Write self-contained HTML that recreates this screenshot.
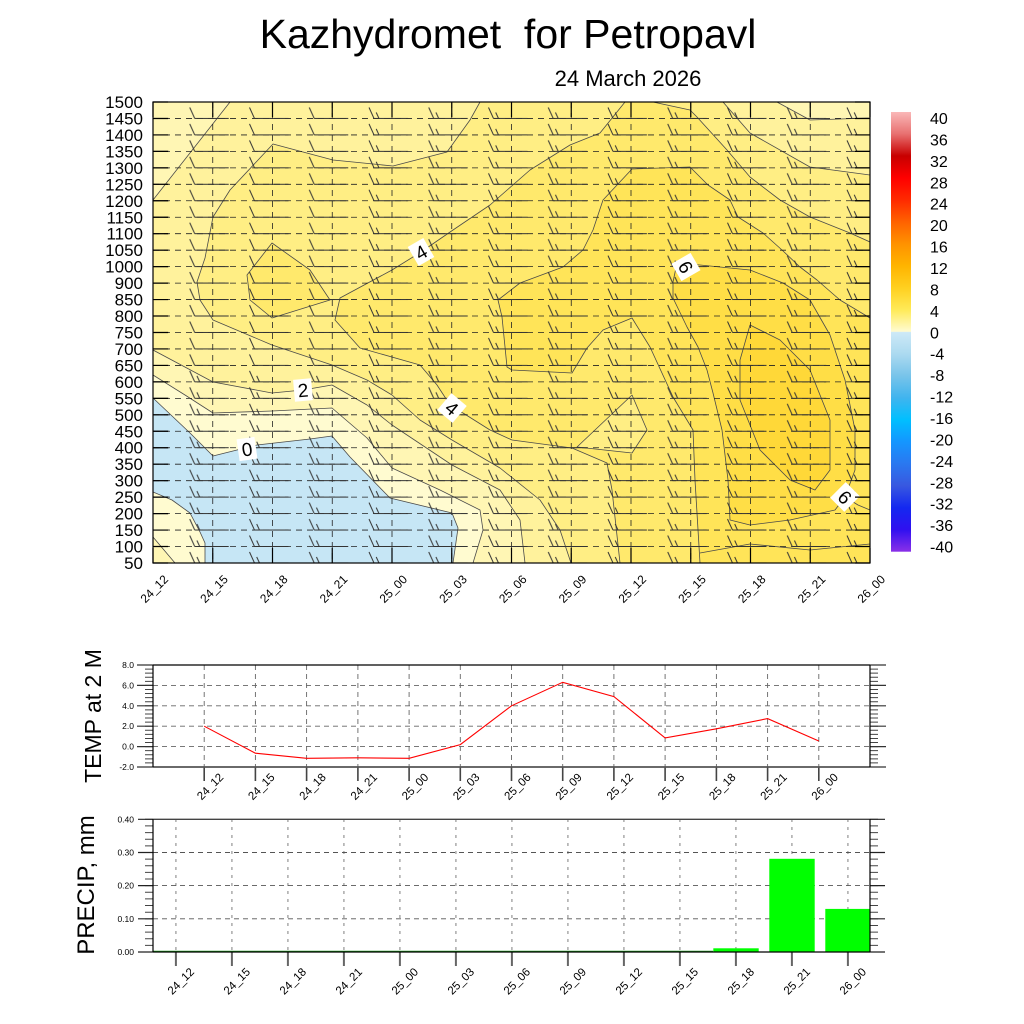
<!DOCTYPE html>
<html>
<head>
<meta charset="utf-8">
<style>
  html, body { margin:0; padding:0; background:#fff; }
  svg { display:block; }
  text { font-family: "Liberation Sans", Arial, sans-serif; fill:#000; }
</style>
</head>
<body>
<svg width="1024" height="1024" viewBox="0 0 1024 1024" xmlns="http://www.w3.org/2000/svg">
  <defs>
    <clipPath id="cp"><rect x="153" y="102" width="717" height="461"/></clipPath>
    <pattern id="pb1" x="123" y="88" width="59.75" height="16.464" patternUnits="userSpaceOnUse">
      <path d="M12 14H46M12 14L7 3" stroke="#333" stroke-width="1" fill="none"/>
    </pattern>
    <pattern id="pb2" x="123" y="88" width="59.75" height="16.464" patternUnits="userSpaceOnUse">
      <path d="M12 14H46M12 14L7 3M17 14L14.2 8" stroke="#333" stroke-width="1" fill="none"/>
    </pattern>
    <linearGradient id="cb" x1="0" y1="0" x2="0" y2="1">
      <stop offset="0" stop-color="#fab8b8"/>
      <stop offset="0.05" stop-color="#e87070"/>
      <stop offset="0.10" stop-color="#c80000"/>
      <stop offset="0.15" stop-color="#ff0000"/>
      <stop offset="0.20" stop-color="#ff2a00"/>
      <stop offset="0.25" stop-color="#ff6200"/>
      <stop offset="0.30" stop-color="#ff9200"/>
      <stop offset="0.35" stop-color="#ffb400"/>
      <stop offset="0.40" stop-color="#ffd020"/>
      <stop offset="0.45" stop-color="#ffea58"/>
      <stop offset="0.499" stop-color="#fffbd0"/>
      <stop offset="0.501" stop-color="#cde9f7"/>
      <stop offset="0.55" stop-color="#acdaf0"/>
      <stop offset="0.60" stop-color="#78c4ea"/>
      <stop offset="0.65" stop-color="#40b4ee"/>
      <stop offset="0.70" stop-color="#00bfff"/>
      <stop offset="0.75" stop-color="#1496ff"/>
      <stop offset="0.80" stop-color="#2a78f0"/>
      <stop offset="0.85" stop-color="#3858e0"/>
      <stop offset="0.90" stop-color="#1428f0"/>
      <stop offset="0.95" stop-color="#3010f0"/>
      <stop offset="1" stop-color="#8a30e8"/>
    </linearGradient>
  </defs>

  <rect width="1024" height="1024" fill="#fff"/>

  <!-- Titles -->
  <text x="508" y="48" font-size="41" text-anchor="middle" xml:space="preserve" style="white-space:pre">Kazhydromet  for Petropavl</text>
  <text x="628" y="86" font-size="22" text-anchor="middle">24 March 2026</text>

  <!-- ===== Main contour plot ===== -->
  <g clip-path="url(#cp)" stroke="#4a4a4a" stroke-width="0.8" stroke-linejoin="round">
    <rect x="153" y="102" width="717" height="461" fill="#ffe96c" stroke="none"/>
    <path fill="#ffee84" d="M153 102 L625 102 L600 133 L570 145 L530 170 L490 205 L453 230 L421 252 L392 270 L340 298 L335 320 L360 348 L420 365 L437 385 L452 408 L463 413 L490 430 L512 440 L572 448 L607 463 L612 490 L620 563 L153 563 Z"/>
    <path fill="#ffe96c" d="M272 243 L310 270 L330 300 L272 318 L250 300 L247 275 Z"/>
    <path fill="#ffee84" d="M653 102 L690 110 L697 117 L727 150 L750 177 L780 200 L810 217 L850 233 L870 242 L870 102 Z"/>
    <path fill="#fff29c" d="M723 102 L750 133 L810 167 L870 175 L870 102 Z"/>
    <path fill="#fff6b4" d="M777 102 L810 120 L870 118 L870 102 Z"/>
    <path fill="#fff29c" d="M153 102 L480 102 L470 120 L447 152 L393 166 L333 160 L273 144 L230 190 L213 217 L205 258 L197 282 L200 300 L213 320 L272 345 L332 365 L367 380 L392 395 L420 420 L452 440 L500 468 L540 500 L560 530 L571 563 L153 563 Z"/>
    <path fill="#fff6b4" d="M153 102 L230 102 L153 200 Z"/>
    <path fill="#fff6b4" d="M153 350 L213 382 L272 393 L303 390 L332 385 L367 405 L392 425 L452 465 L500 490 L520 520 L525 563 L153 563 Z"/>
    <path fill="#fffbd0" d="M153 375 L185 395 L213 413 L272 411 L332 408 L367 438 L392 468 L440 490 L480 510 L483 530 L473 563 L153 563 Z"/>
    <path fill="#fff6b4" d="M153 537 L175 563 L153 563 Z"/>
    <path fill="#c6e6f5" d="M153 398 L190 433 L213 456 L257 445 L310 439 L332 436 L350 457 L390 498 L452 513 L458 528 L453 563 L205 563 L205 543 L200 532 L190 513 L172 500 L153 492 Z"/>
    <path fill="#ffee84" d="M577 447 L632 395 L647 430 L632 453 Z"/>
    <path fill="#ffe458" d="M603 200 L632 169 L690 167 L708 185 L730 200 L738 217 L763 233 L782 250 L800 267 L817 280 L840 300 L870 318 L870 563 L700 563 L695 480 L693 430 L673 397 L650 347 L632 318 L603 330 L587 348 L572 373 L512 370 L507 367 L502 317 L498 300 L520 283 L563 267 L583 250 L593 230 Z"/>
    <path fill="#ffde46" d="M673 282 L677 263 L700 265 L750 270 L783 283 L810 300 L830 335 L845 380 L855 430 L855 470 L845 497 L835 510 L790 520 L750 525 L730 520 L728 480 L722 430 L713 393 L707 370 L698 347 L687 327 L673 298 Z"/>
    <path fill="#ffd838" d="M750 325 L740 360 L740 400 L760 450 L790 480 L815 490 L830 470 L830 420 L810 370 L780 340 Z"/>
    <polyline fill="none" points="700,553 750,544 810,550 870,544"/>
    <polyline fill="none" points="845,497 858,505 870,510"/>

    <path fill="none" stroke="#222" stroke-width="0.8" stroke-dasharray="6 5" d="M153 118.46H870M153 134.93H870M153 151.39H870M153 167.86H870M153 184.32H870M153 200.78H870M153 217.25H870M153 233.71H870M153 250.18H870M153 266.64H870M153 283.1H870M153 299.57H870M153 316.03H870M153 332.5H870M153 348.96H870M153 365.42H870M153 381.89H870M153 398.35H870M153 414.82H870M153 431.28H870M153 447.74H870M153 464.21H870M153 480.67H870M153 497.14H870M153 513.6H870M153 530.06H870M153 546.53H870"/>
    <path fill="none" stroke="#222" stroke-width="0.8" stroke-dasharray="6 5" d="M212.75 102V563M272.5 102V563M332.25 102V563M392 102V563M451.75 102V563M511.5 102V563M571.25 102V563M631 102V563M690.75 102V563M750.5 102V563M810.25 102V563"/>

    <rect x="153" y="102" width="209.75" height="265.9" fill="url(#pb1)" stroke="none"/>
    <rect x="362.75" y="102" width="507.25" height="461" fill="url(#pb2)" stroke="none"/>
    <rect x="153" y="367.9" width="209.75" height="195.1" fill="url(#pb2)" stroke="none"/>
  </g>

  <g font-size="19" text-anchor="middle">
    <g transform="translate(247 449) rotate(-8)"><rect x="-9" y="-11" width="18" height="22" fill="#fff"/><text y="7">0</text></g>
    <g transform="translate(303 390) rotate(-5)"><rect x="-9" y="-11" width="18" height="22" fill="#fff"/><text y="7">2</text></g>
    <g transform="translate(421 252) rotate(-30)"><rect x="-9" y="-11" width="18" height="22" fill="#fff"/><text y="7">4</text></g>
    <g transform="translate(452 408) rotate(40)"><rect x="-10" y="-11" width="20" height="22" fill="#fff"/><text y="7">4</text></g>
    <g transform="translate(686 267) rotate(60)"><rect x="-10" y="-11" width="20" height="22" fill="#fff"/><text y="7">6</text></g>
    <g transform="translate(845 497) rotate(45)"><rect x="-10" y="-11" width="20" height="22" fill="#fff"/><text y="7">6</text></g>
  </g>

  <g stroke="#000" fill="none">
    <line x1="160.5" y1="101.4" x2="160.5" y2="563.6" stroke-width="15" stroke-dasharray="1.2 15.264"/>
    <line x1="862.5" y1="101.4" x2="862.5" y2="563.6" stroke-width="15" stroke-dasharray="1.2 15.264"/>
    <line x1="152.4" y1="109.5" x2="870.6" y2="109.5" stroke-width="15" stroke-dasharray="1.2 58.55"/>
    <line x1="152.4" y1="555.5" x2="870.6" y2="555.5" stroke-width="15" stroke-dasharray="1.2 58.55"/>
    <rect x="153" y="102" width="717" height="461" stroke-width="1.2"/>
  </g>

  <g font-size="17" text-anchor="end">
    <text x="143" y="108">1500</text><text x="143" y="124.46">1450</text><text x="143" y="140.93">1400</text>
    <text x="143" y="157.39">1350</text><text x="143" y="173.86">1300</text><text x="143" y="190.32">1250</text>
    <text x="143" y="206.78">1200</text><text x="143" y="223.25">1150</text><text x="143" y="239.71">1100</text>
    <text x="143" y="256.18">1050</text><text x="143" y="272.64">1000</text><text x="143" y="289.1">900</text>
    <text x="143" y="305.57">850</text><text x="143" y="322.03">800</text><text x="143" y="338.5">750</text>
    <text x="143" y="354.96">700</text><text x="143" y="371.42">650</text><text x="143" y="387.89">600</text>
    <text x="143" y="404.35">550</text><text x="143" y="420.82">500</text><text x="143" y="437.28">450</text>
    <text x="143" y="453.74">400</text><text x="143" y="470.21">350</text><text x="143" y="486.67">300</text>
    <text x="143" y="503.14">250</text><text x="143" y="519.6">200</text><text x="143" y="536.06">150</text>
    <text x="143" y="552.53">100</text><text x="143" y="569">50</text>
  </g>

  <g font-size="12" text-anchor="end">
    <text transform="translate(169 580) rotate(-45)">24_12</text>
    <text transform="translate(228.75 580) rotate(-45)">24_15</text>
    <text transform="translate(288.5 580) rotate(-45)">24_18</text>
    <text transform="translate(348.25 580) rotate(-45)">24_21</text>
    <text transform="translate(408 580) rotate(-45)">25_00</text>
    <text transform="translate(467.75 580) rotate(-45)">25_03</text>
    <text transform="translate(527.5 580) rotate(-45)">25_06</text>
    <text transform="translate(587.25 580) rotate(-45)">25_09</text>
    <text transform="translate(647 580) rotate(-45)">25_12</text>
    <text transform="translate(706.75 580) rotate(-45)">25_15</text>
    <text transform="translate(766.5 580) rotate(-45)">25_18</text>
    <text transform="translate(826.25 580) rotate(-45)">25_21</text>
    <text transform="translate(886 580) rotate(-45)">26_00</text>
  </g>

  <rect x="891" y="112" width="20" height="439.7" fill="url(#cb)"/>
  <g font-size="16">
    <text x="930" y="124">40</text><text x="930" y="145.4">36</text><text x="930" y="166.9">32</text>
    <text x="930" y="188.3">28</text><text x="930" y="209.7">24</text><text x="930" y="231.2">20</text>
    <text x="930" y="252.6">16</text><text x="930" y="274">12</text><text x="930" y="295.4">8</text>
    <text x="930" y="316.9">4</text><text x="930" y="338.3">0</text><text x="930" y="359.7">-4</text>
    <text x="930" y="381.2">-8</text><text x="930" y="402.6">-12</text><text x="930" y="424">-16</text>
    <text x="930" y="445.5">-20</text><text x="930" y="466.9">-24</text><text x="930" y="488.3">-28</text>
    <text x="930" y="509.7">-32</text><text x="930" y="531.2">-36</text><text x="930" y="552.6">-40</text>
  </g>

  <!-- ===== Temperature panel ===== -->
  <text transform="translate(101 716) rotate(-90)" font-size="23" text-anchor="middle">TEMP at 2 M</text>
  <g fill="none">
    <path stroke="#666" stroke-width="0.9" stroke-dasharray="5 4" d="M153 685.4H870M153 705.8H870M153 726.2H870M153 746.6H870"/>
    <path stroke="#666" stroke-width="0.9" stroke-dasharray="5 4" d="M204.2 665V767M255.4 665V767M306.6 665V767M357.9 665V767M409.1 665V767M460.3 665V767M511.5 665V767M562.7 665V767M613.9 665V767M665.1 665V767M716.4 665V767M767.6 665V767M818.8 665V767"/>
    <polyline stroke="#ff0000" stroke-width="1.1" points="204.2,726.2 255.4,753.2 306.6,758.3 357.9,757.8 409.1,758.3 460.3,744.6 511.5,705.8 562.7,682.3 613.9,696.6 665.1,737.9 716.4,728.8 767.6,718.6 818.8,741"/>
    <line x1="149" y1="664.5" x2="149" y2="767.5" stroke="#444" stroke-width="8" stroke-dasharray="1 3.08"/>
    <line x1="874" y1="664.5" x2="874" y2="767.5" stroke="#444" stroke-width="8" stroke-dasharray="1 3.08"/>
    <path stroke="#333" stroke-width="1.2" d="M137 665H153M137 685.4H153M137 705.8H153M137 726.2H153M137 746.6H153M137 767H153M870 665H886M870 685.4H886M870 705.8H886M870 726.2H886M870 746.6H886M870 767H886"/>
    <path stroke="#444" stroke-width="1.6" d="M204.2 767V781M255.4 767V781M306.6 767V781M357.9 767V781M409.1 767V781M460.3 767V781M511.5 767V781M562.7 767V781M613.9 767V781M665.1 767V781M716.4 767V781M767.6 767V781M818.8 767V781"/>
    <line x1="153" y1="665" x2="870" y2="665" stroke="#000" stroke-width="1.2"/>
    <line x1="153" y1="767" x2="870" y2="767" stroke="#555" stroke-width="1.8"/>
    <line x1="153" y1="665" x2="153" y2="767" stroke="#000" stroke-width="1.2"/>
    <line x1="870" y1="665" x2="870" y2="767" stroke="#000" stroke-width="1.2"/>
  </g>
  <g font-size="8.5" text-anchor="end" fill="#222">
    <text x="134" y="668">8.0</text><text x="134" y="688.4">6.0</text><text x="134" y="708.8">4.0</text>
    <text x="134" y="729.2">2.0</text><text x="134" y="749.6">0.0</text><text x="134" y="770">-2.0</text>
  </g>
  <g font-size="11.5" text-anchor="end">
    <text transform="translate(224.2 778) rotate(-45)">24_12</text>
    <text transform="translate(275.4 778) rotate(-45)">24_15</text>
    <text transform="translate(326.6 778) rotate(-45)">24_18</text>
    <text transform="translate(377.9 778) rotate(-45)">24_21</text>
    <text transform="translate(429.1 778) rotate(-45)">25_00</text>
    <text transform="translate(480.3 778) rotate(-45)">25_03</text>
    <text transform="translate(531.5 778) rotate(-45)">25_06</text>
    <text transform="translate(582.7 778) rotate(-45)">25_09</text>
    <text transform="translate(633.9 778) rotate(-45)">25_12</text>
    <text transform="translate(685.1 778) rotate(-45)">25_15</text>
    <text transform="translate(736.4 778) rotate(-45)">25_18</text>
    <text transform="translate(787.6 778) rotate(-45)">25_21</text>
    <text transform="translate(838.8 778) rotate(-45)">26_00</text>
  </g>

  <!-- ===== Precip panel ===== -->
  <text transform="translate(94 885) rotate(-90)" font-size="24" text-anchor="middle">PRECIP, mm</text>
  <g fill="none">
    <path stroke="#aaa" stroke-width="1.5" stroke-dasharray="3 5" d="M175.9 819V952M231.9 819V952M287.9 819V952M343.9 819V952M399.9 819V952M455.9 819V952M511.9 819V952M567.9 819V952M623.9 819V952M679.9 819V952M735.9 819V952M791.9 819V952M847.9 819V952"/>
    <path stroke="#555" stroke-width="0.9" stroke-dasharray="5 4" d="M153 852.5H870M153 885.6H870M153 918.8H870"/>
  </g>
  <g fill="#00ff00">
    <rect x="713.3" y="948.3" width="45.4" height="3.7"/>
    <rect x="769.3" y="858.8" width="45.4" height="93.2"/>
    <rect x="825.3" y="908.9" width="44.7" height="43.1"/>
  </g>
  <g fill="none">
    <line x1="153" y1="951.2" x2="713" y2="951.2" stroke="#1a9a1a" stroke-width="1"/>
    <line x1="149" y1="818.8" x2="149" y2="952.5" stroke="#444" stroke-width="8" stroke-dasharray="1 5.635"/>
    <line x1="874" y1="818.8" x2="874" y2="952.5" stroke="#444" stroke-width="8" stroke-dasharray="1 5.635"/>
    <path stroke="#222" stroke-width="1.2" d="M138 819.3H153M138 852.5H153M138 885.6H153M138 918.8H153M138 952H153M870 819.3H885M870 852.5H885M870 885.6H885M870 918.8H885M870 952H885"/>
    <path stroke="#666" stroke-width="2" d="M175.9 952V966M231.9 952V966M287.9 952V966M343.9 952V966M399.9 952V966M455.9 952V966M511.9 952V966M567.9 952V966M623.9 952V966M679.9 952V966M735.9 952V966M791.9 952V966M847.9 952V966"/>
    <line x1="153" y1="819.3" x2="870" y2="819.3" stroke="#444" stroke-width="1.3"/>
    <line x1="153" y1="952" x2="870" y2="952" stroke="#000" stroke-width="1.2"/>
    <line x1="153" y1="819.3" x2="153" y2="952" stroke="#000" stroke-width="1.2"/>
    <line x1="870" y1="819.3" x2="870" y2="952" stroke="#000" stroke-width="1.2"/>
  </g>
  <g font-size="8.5" text-anchor="end" fill="#222">
    <text x="134" y="822.3">0.40</text><text x="134" y="855.5">0.30</text><text x="134" y="888.6">0.20</text>
    <text x="134" y="921.8">0.10</text><text x="134" y="955">0.00</text>
  </g>
  <g font-size="11.5" text-anchor="end">
    <text transform="translate(194.9 972.6) rotate(-45)">24_12</text>
    <text transform="translate(250.9 972.6) rotate(-45)">24_15</text>
    <text transform="translate(306.9 972.6) rotate(-45)">24_18</text>
    <text transform="translate(362.9 972.6) rotate(-45)">24_21</text>
    <text transform="translate(418.9 972.6) rotate(-45)">25_00</text>
    <text transform="translate(474.9 972.6) rotate(-45)">25_03</text>
    <text transform="translate(530.9 972.6) rotate(-45)">25_06</text>
    <text transform="translate(586.9 972.6) rotate(-45)">25_09</text>
    <text transform="translate(642.9 972.6) rotate(-45)">25_12</text>
    <text transform="translate(698.9 972.6) rotate(-45)">25_15</text>
    <text transform="translate(754.9 972.6) rotate(-45)">25_18</text>
    <text transform="translate(810.9 972.6) rotate(-45)">25_21</text>
    <text transform="translate(866.9 972.6) rotate(-45)">26_00</text>
  </g>
</svg>
</body>
</html>
